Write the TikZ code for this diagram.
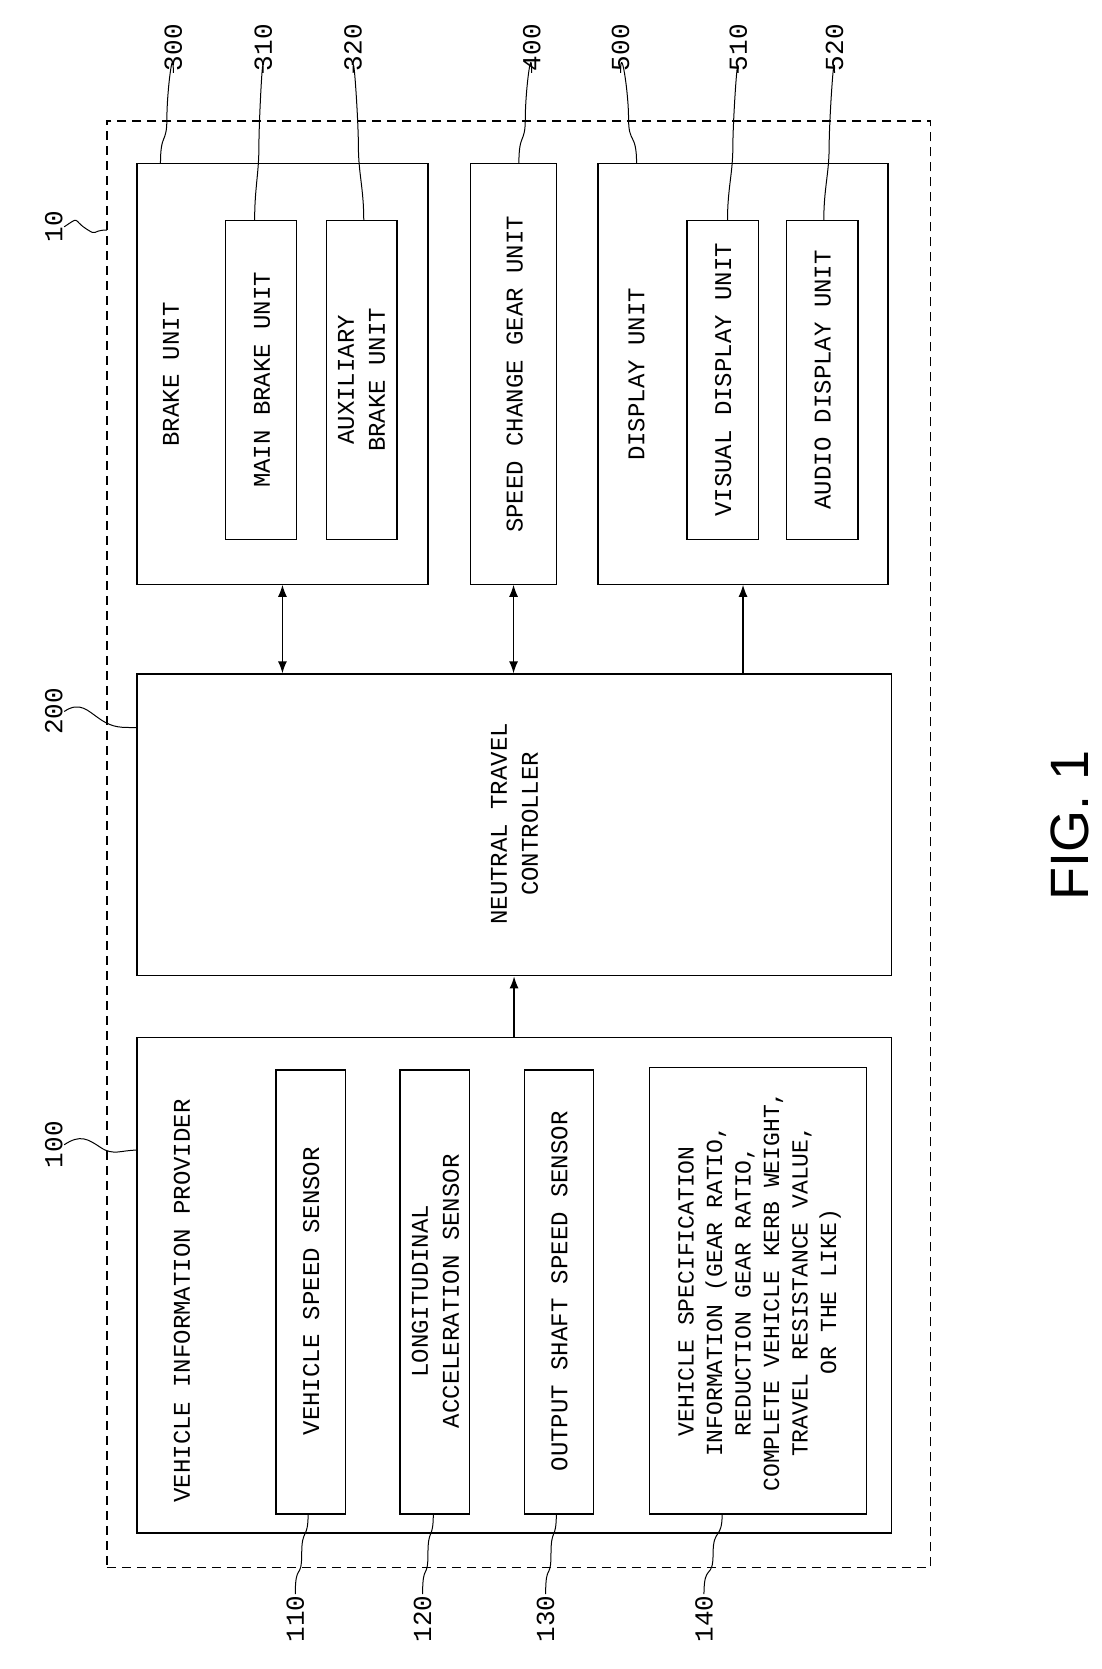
\documentclass[tikz,border=0pt]{standalone}
\usepackage{fontspec}
\setmonofont{Liberation Mono}
\setsansfont{Liberation Sans}
\usetikzlibrary{fit,arrows.meta,calc}
\begin{document}
\begin{tikzpicture}[x=1.07pt,y=-1.07pt,line width=1.3pt,
  box/.style={draw,inner sep=0pt},
  txt/.style={rotate=90,font=\ttfamily\fontsize{24}{31}\selectfont,align=center,inner sep=0pt},
  lab/.style={rotate=90,font=\ttfamily\fontsize{26}{30}\selectfont,inner sep=1pt},
  arr/.style={-{Latex[length=12pt,width=9pt]}},
  barr/.style={{Latex[length=12pt,width=9pt]}-{Latex[length=12pt,width=9pt]}}]
\useasboundingbox (0,0) rectangle (1030,1560);
\node[box,dash pattern=on 9pt off 6pt,fit={(100,113)(870,1465)}] (b10) {};
\node[box,fit={(128,153)(400,546)}] (b300) {};
\node[box,fit={(211,206)(277,504)}] (b310) {};
\node[box,fit={(305,206)(371,504)}] (b320) {};
\node[box,fit={(440,153)(520,546)}] (b400) {};
\node[box,fit={(559,153)(830,546)}] (b500) {};
\node[box,fit={(642,206)(709,504)}] (b510) {};
\node[box,fit={(735,206)(802,504)}] (b520) {};
\node[box,fit={(128,630)(833,912)}] (b200) {};
\node[box,fit={(128,970)(833,1433)}] (b100) {};
\node[box,fit={(258,1000)(323,1415)}] (b110) {};
\node[box,fit={(374,1000)(439,1415)}] (b120) {};
\node[box,fit={(490,1000)(555,1415)}] (b130) {};
\node[box,fit={(607,998)(810,1415)}] (b140) {};
% texts
\node[txt] (t300) at (160,350) {BRAKE UNIT};
\node[txt] (t310) at (245,355) {MAIN BRAKE UNIT};
\node[txt] (t320) at (338,355) {AUXILIARY\\BRAKE UNIT};
\node[txt] (t400) at (481,350) {SPEED CHANGE GEAR UNIT};
\node[txt] (t500) at (595,350) {DISPLAY UNIT};
\node[txt] (t510) at (676,355) {VISUAL DISPLAY UNIT};
\node[txt] (t520) at (769,355) {AUDIO DISPLAY UNIT};
\node[txt] (t200) at (481,770) {NEUTRAL TRAVEL\\CONTROLLER};
\node[txt] (t100) at (170,1216) {VEHICLE INFORMATION PROVIDER};
\node[txt] (t110) at (291,1207) {VEHICLE SPEED SENSOR};
\node[txt] (t120) at (407,1207) {LONGITUDINAL\\ACCELERATION SENSOR};
\node[txt] (t130) at (523,1207) {OUTPUT SHAFT SPEED SENSOR};
\node[txt,font=\ttfamily\fontsize{23}{28.5}\selectfont] (t140) at (710,1207) {VEHICLE SPECIFICATION\\INFORMATION (GEAR RATIO,\\REDUCTION GEAR RATIO,\\COMPLETE VEHICLE KERB WEIGHT,\\TRAVEL RESISTANCE VALUE,\\OR THE LIKE)};
% arrows
\draw[barr] (b300.south) -- (b300.south|-b200.north);
\draw[barr] (b400.south) -- (b400.south|-b200.north);
\draw[arr] (b500.south|-b200.north) -- (b500.south);
\draw[arr] (b100.north) -- (b100.north|-b200.south);
% top labels
\foreach \n/\lx/\ex/\ey in {300/162/150/153,310/246/238/206,320/330/340/206,400/497/485/153,500/580/595/153,510/690/680/206,520/780/770/206}{
  \node[lab,anchor=west] (l\n) at (\lx,68) {\n};
  \coordinate (e\n) at (\ex,\ey);
  \draw[line width=1pt] (l\n.west) .. controls +(0,-30) and +(0,-25) .. ($(l\n.west)!0.5!(e\n)$) .. controls +(0,25) and +(0,-30) .. (e\n);
}
% left labels
\foreach \n/\ly/\ex/\ey in {10/212/100/215,200/665/128/680,100/1070/128/1075}{
  \node[lab,anchor=south] (l\n) at (60,\ly) {\n};
  \coordinate (e\n) at (\ex,\ey);
  \draw[line width=1pt] (l\n.south) .. controls +(15,-10) and +(-12,-8) .. ($(l\n.south)!0.5!(e\n)$) .. controls +(12,8) and +(-15,0) .. (e\n);
}
% bottom labels
\foreach \n/\lx/\ex in {110/276/288,120/395/405,130/510/520,140/658/675}{
  \node[lab,anchor=east] (l\n) at (\lx,1490) {\n};
  \coordinate (e\n) at (\ex,1415);
  \draw[line width=1pt] (e\n) .. controls +(0,25) and +(0,-25) .. ($(l\n.east)!0.5!(e\n)$) .. controls +(0,25) and +(0,-30) .. (l\n.east);
}
\node[rotate=90,font=\sffamily\fontsize{54}{60}\selectfont] (fig) at (1000,772) {FIG. 1};
\end{tikzpicture}
\end{document}
